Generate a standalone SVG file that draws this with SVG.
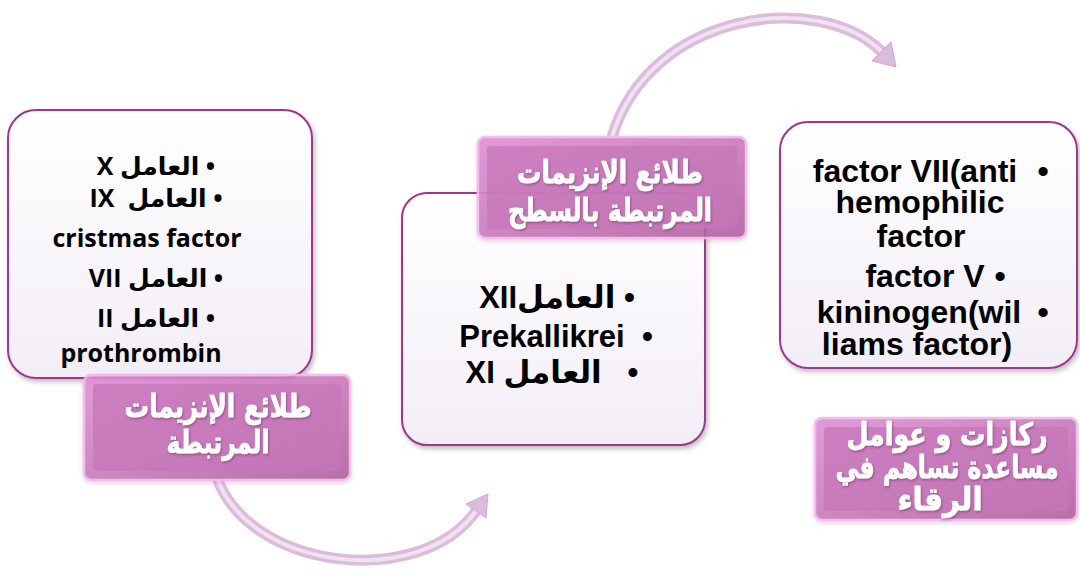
<svg xmlns="http://www.w3.org/2000/svg" width="1080" height="572" viewBox="0 0 1080 572">
<defs>
  <linearGradient id="boxFill" x1="0" y1="0" x2="0" y2="1">
    <stop offset="0" stop-color="#ffffff"/>
    <stop offset="1" stop-color="#f3eef6"/>
  </linearGradient>
  <linearGradient id="lblFill" x1="0" y1="0" x2="1" y2="1">
    <stop offset="0" stop-color="#e08fd6"/>
    <stop offset="0.5" stop-color="#c97abb"/>
    <stop offset="1" stop-color="#b0609f"/>
  </linearGradient>
  <filter id="shadow" x="-10%" y="-10%" width="130%" height="130%">
    <feDropShadow dx="2" dy="3" stdDeviation="2.5" flood-color="#000" flood-opacity="0.25"/>
  </filter>
  <filter id="glow" x="-10%" y="-10%" width="120%" height="130%">
    <feDropShadow dx="0" dy="2" stdDeviation="2" flood-color="#b070a8" flood-opacity="0.35"/>
  </filter>
  <filter id="tshadow" x="-10%" y="-20%" width="120%" height="150%">
    <feDropShadow dx="1" dy="1.5" stdDeviation="1" flood-color="#5a2050" flood-opacity="0.45"/>
  </filter>
</defs>
<style>
  .box { fill: url(#boxFill); stroke: #a2358f; stroke-width: 2; filter: url(#shadow); }
  .lbl { fill: url(#lblFill); stroke: #f1b8ea; stroke-width: 2.5; opacity: 0.9; filter: url(#glow); }
  .lblIn { fill: #c577b8; opacity: 0.75; }
  .lt { font-family: "DejaVu Sans", "Liberation Sans", sans-serif; font-weight: bold; font-size: 31px; fill: #ffffff; stroke: #ffffff; stroke-width: 0.8; text-anchor: middle; filter: url(#tshadow); }
  .t1 { font-family: "Open Sans", "DejaVu Sans", sans-serif; font-weight: bold; font-size: 25px; fill: #000; text-anchor: middle; }
  .t2 { font-family: "Liberation Sans", "DejaVu Sans", sans-serif; font-weight: bold; font-size: 31px; fill: #000; text-anchor: middle; }
  .t3 { font-family: "Liberation Sans", "DejaVu Sans", sans-serif; font-weight: bold; font-size: 32px; fill: #000; text-anchor: middle; }
  .arr { fill: none; stroke: #dcbcdc; stroke-width: 11; stroke-linecap: butt; }
  .arrHi { fill: none; stroke: #f1e2f1; stroke-width: 4; }
  .head { fill: #dcbcdc; stroke: #cfa8cf; stroke-width: 1; }
</style>

<g id="connectors">
  <path class="arr" d="M612,137 C650,10 820,-10 882,52"/>
  <path class="arrHi" d="M612,137 C650,10 820,-10 882,52"/>
  <polygon class="head" points="896,67 872,61 891,42"/>
  <path class="arr" d="M217,478 C250,570 420,590 476,511"/>
  <path class="arrHi" d="M217,478 C250,570 420,590 476,511"/>
  <polygon class="head" points="488,494 486,518 466,504"/>
</g>

<g id="node1">
  <rect class="box" x="8" y="110" width="304" height="268" rx="28"/>
  <text class="t1" x="156" y="175">X العامل •</text>
  <text class="t1" x="156" y="207" xml:space="preserve">IX  العامل •</text>
  <text class="t1" x="147" y="247">cristmas factor</text>
  <text class="t1" x="156" y="287">VII العامل •</text>
  <text class="t1" x="156" y="327">II العامل •</text>
  <text class="t1" x="141" y="362">prothrombin</text>
</g>

<g id="label1">
  <rect class="lbl" x="84" y="375" width="266" height="105" rx="7"/>
  <rect class="lblIn" x="93" y="384" width="248" height="87" rx="3"/>
  <text class="lt" x="218" y="417" textLength="187" lengthAdjust="spacingAndGlyphs">طلائع الإنزيمات</text>
  <text class="lt" x="218" y="453" textLength="103" lengthAdjust="spacingAndGlyphs">المرتبطة</text>
</g>

<g id="node2">
  <rect class="box" x="402" y="193" width="303" height="252" rx="25"/>
  <text class="t2" x="557" y="308">XIIالعامل •</text>
  <text class="t2" x="556" y="347" xml:space="preserve">Prekallikrei  •</text>
  <text class="t2" x="552" y="383" xml:space="preserve">XI العامل   •</text>
</g>

<g id="label2">
  <rect class="lbl" x="478" y="137" width="268" height="101" rx="7"/>
  <rect class="lblIn" x="487" y="146" width="250" height="83" rx="3"/>
  <text class="lt" x="610" y="183" textLength="186" lengthAdjust="spacingAndGlyphs">طلائع الإنزيمات</text>
  <text class="lt" x="610" y="221" textLength="204" lengthAdjust="spacingAndGlyphs">المرتبطة بالسطح</text>
</g>

<g id="node3">
  <rect class="box" x="780" y="122" width="297" height="246" rx="28"/>
  <text class="t3" x="915" y="182">factor VII(anti</text>
  <text class="t3" x="1043" y="182">•</text>
  <text class="t3" x="920" y="213">hemophilic</text>
  <text class="t3" x="921" y="247">factor</text>
  <text class="t3" x="925" y="287">factor V</text>
  <text class="t3" x="1000" y="287">•</text>
  <text class="t3" x="919" y="323">kininogen(wil</text>
  <text class="t3" x="1043" y="323">•</text>
  <text class="t3" x="917" y="355">liams factor)</text>
</g>

<g id="label3">
  <rect class="lbl" x="815" y="418" width="262" height="102" rx="7"/>
  <rect class="lblIn" x="824" y="427" width="244" height="84" rx="3"/>
  <text class="lt" x="947" y="445" textLength="201" lengthAdjust="spacingAndGlyphs">ركازات و عوامل</text>
  <text class="lt" x="947" y="478" textLength="223" lengthAdjust="spacingAndGlyphs">مساعدة تساهم في</text>
  <text class="lt" x="940" y="510" textLength="85" lengthAdjust="spacingAndGlyphs">الرقاء</text>
</g>
</svg>
